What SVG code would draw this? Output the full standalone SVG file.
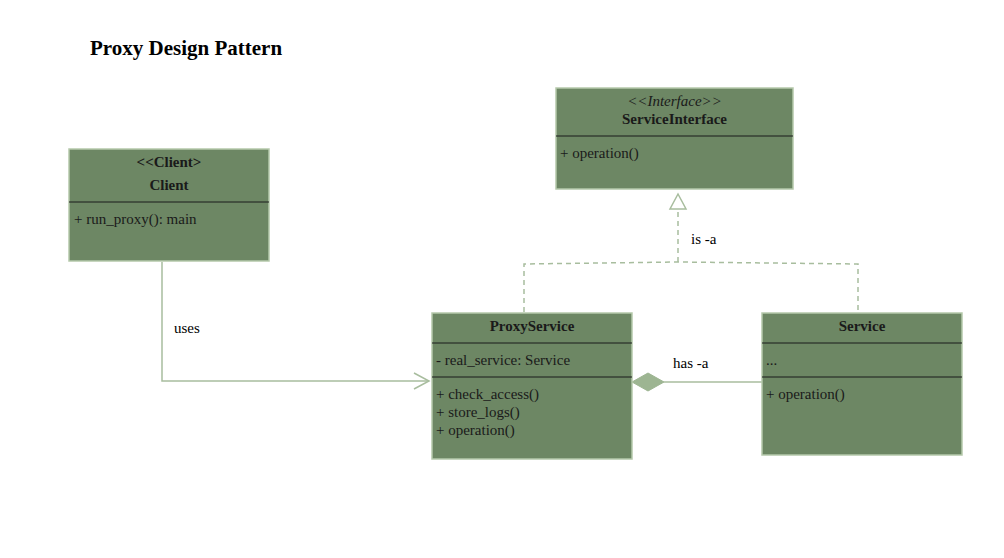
<svg xmlns="http://www.w3.org/2000/svg" width="1004" height="558" viewBox="0 0 1004 558">
<style>
.box{fill:#6d8764;stroke:#b5c9ab;stroke-width:1.5}
.sep{stroke:#1a1a1a;stroke-width:1}
text{font-family:"Liberation Serif","Times New Roman",serif;font-size:15px;fill:#1a1a1a}
.b{font-weight:bold}
.c{text-anchor:middle}
.i{font-style:italic}
.ln{fill:none;stroke:#a8bd9e;stroke-width:1.5}
.d{stroke-dasharray:5,4}
.lbl{fill:#000}
</style>
<rect width="1004" height="558" fill="#fff"/>
<text x="90" y="55" class="b" style="font-size:21px;fill:#000">Proxy Design Pattern</text>
<g id="connectors">
<polyline class="ln" points="162,262 162,381 429,381"/>
<polyline class="ln" points="414,373 429,381 414,389"/>
<text x="174" y="333" class="lbl">uses</text>
<polyline class="ln d" points="524,312 524,264 678,262 858,264 858,312"/>
<line class="ln d" x1="678" y1="262" x2="678" y2="209"/>
<polygon points="678,194 670,209 686,209" fill="#fff" stroke="#a8bd9e" stroke-width="1.5"/>
<text x="691" y="244" class="lbl">is -a</text>
<line class="ln" x1="664" y1="382" x2="762" y2="382"/>
<polygon points="632,382 648,373 664,382 648,391" fill="#9db592" stroke="#9db592" stroke-width="1"/>
<text x="673" y="368" class="lbl">has -a</text>
</g>
<g id="client">
<rect class="box" x="69" y="149" width="200" height="112"/>
<text x="169" y="167" class="b c">&lt;&lt;Client&gt;</text>
<text x="169" y="190" class="b c">Client</text>
<line class="sep" x1="69" y1="202" x2="269" y2="202"/>
<text x="74" y="224">+ run_proxy(): main</text>
</g>
<g id="serviceinterface">
<rect class="box" x="556" y="88" width="237" height="101"/>
<text x="674.5" y="106" class="i c">&lt;&lt;Interface&gt;&gt;</text>
<text x="674.5" y="124" class="b c">ServiceInterface</text>
<line class="sep" x1="556" y1="136" x2="793" y2="136"/>
<text x="560" y="158">+ operation()</text>
</g>
<g id="proxyservice">
<rect class="box" x="432" y="313" width="200" height="146"/>
<text x="532" y="331" class="b c">ProxyService</text>
<line class="sep" x1="432" y1="343" x2="632" y2="343"/>
<text x="436" y="365">- real_service: Service</text>
<line class="sep" x1="432" y1="377" x2="632" y2="377"/>
<text x="436" y="399">+ check_access()</text>
<text x="436" y="417">+ store_logs()</text>
<text x="436" y="435">+ operation()</text>
</g>
<g id="service">
<rect class="box" x="762" y="313" width="200" height="142"/>
<text x="862" y="331" class="b c">Service</text>
<line class="sep" x1="762" y1="343" x2="962" y2="343"/>
<text x="766" y="365">...</text>
<line class="sep" x1="762" y1="377" x2="962" y2="377"/>
<text x="766" y="399">+ operation()</text>
</g>
</svg>
